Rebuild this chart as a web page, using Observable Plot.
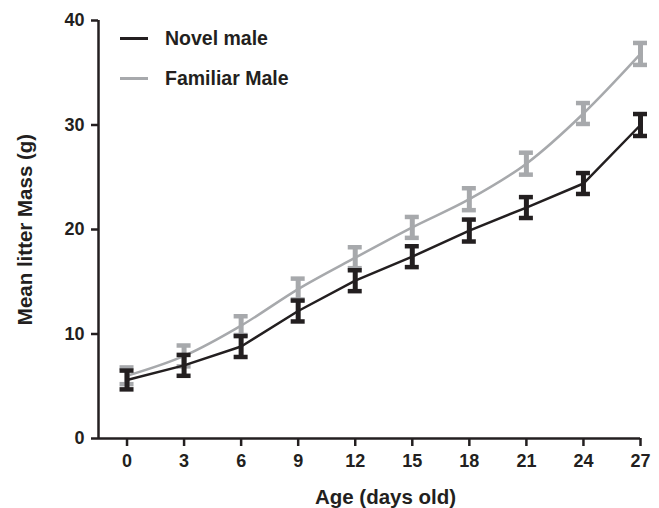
<!DOCTYPE html>
<html>
<head>
<meta charset="utf-8">
<script src="https://cdn.jsdelivr.net/npm/d3@7"></script>
<script src="https://cdn.jsdelivr.net/npm/@observablehq/plot@0.6"></script>
<style>
  html, body { margin: 0; padding: 0; background: #fff; }
  #wrap { position: relative; width: 659px; height: 508px; font-family: "Liberation Sans", Arial, sans-serif; }
  #legend { position: absolute; left: 120px; top: 18px; }
  .item { display: flex; align-items: center; height: 40px; font-weight: bold; font-size: 19.5px; color: #231f20; }
  .swatch { width: 28px; height: 3px; margin-right: 17px; }
</style>
</head>
<body>
<div id="wrap"><div id="legend"></div></div>
<script>
const days = [0, 3, 6, 9, 12, 15, 18, 21, 24, 27];
const novelMean = [5.6, 7.0, 8.8, 12.2, 15.1, 17.4, 19.9, 22.1, 24.4, 30.0];
const novelErr = [0.9, 1.0, 1.0, 1.0, 1.0, 1.0, 1.05, 1.0, 1.0, 1.05];
const familiarMean = [6.0, 7.9, 10.8, 14.3, 17.3, 20.2, 22.9, 26.3, 31.1, 36.8];
const familiarErr = [0.8, 1.0, 0.9, 1.0, 1.0, 1.0, 1.05, 1.05, 1.0, 1.05];
const seriesNames = ["Novel male", "Familiar Male"];
const seriesColors = ["#231f20", "#a7a9ac"];
const yTicks = [0, 10, 20, 30, 40];
const xTitle = "Age (days old)";
const yTitle = "Mean litter Mass (g)";

const novel = days.map((d, i) => ({day: d, mean: novelMean[i], lo: novelMean[i] - novelErr[i], hi: novelMean[i] + novelErr[i]}));
const familiar = days.map((d, i) => ({day: d, mean: familiarMean[i], lo: familiarMean[i] - familiarErr[i], hi: familiarMean[i] + familiarErr[i]}));

function errMarks(data, color) {
  return [
    Plot.ruleX(data, {x: "day", y1: "lo", y2: "hi", stroke: color, strokeWidth: 5}),
    Plot.ruleY(data, {x1: "day", x2: "day", y: "lo", stroke: color, strokeWidth: 4.5, insetLeft: -7, insetRight: -7}),
    Plot.ruleY(data, {x1: "day", x2: "day", y: "hi", stroke: color, strokeWidth: 4.5, insetLeft: -7, insetRight: -7})
  ];
}

const ink = "#231f20";
const chart = Plot.plot({
  width: 659,
  height: 508,
  marginLeft: 98,
  marginRight: 19,
  marginTop: 20,
  marginBottom: 70,
  style: {fontFamily: "'Liberation Sans', Arial, sans-serif", color: ink, background: "#fff"},
  x: {domain: [-1.5, 27]},
  y: {domain: [0, 40]},
  marks: [
    Plot.axisX({ticks: days, tickSize: 8, tickPadding: 8, fontSize: 18, fontWeight: "bold", strokeWidth: 2.5, label: null, tickFormat: d => String(d)}),
    Plot.axisY({ticks: yTicks, tickSize: 7, tickPadding: 7, fontSize: 18, fontWeight: "bold", strokeWidth: 2.5, label: null}),
    Plot.ruleY([0], {stroke: ink, strokeWidth: 2.5}),
    Plot.ruleX([-1.5], {stroke: ink, strokeWidth: 2.5}),
    ...errMarks(familiar, seriesColors[1]),
    Plot.line(familiar, {x: "day", y: "mean", stroke: seriesColors[1], strokeWidth: 2.5, curve: "monotone-x"}),
    ...errMarks(novel, seriesColors[0]),
    Plot.line(novel, {x: "day", y: "mean", stroke: seriesColors[0], strokeWidth: 2.5}),
    Plot.text([yTitle], {frameAnchor: "left", textAnchor: "middle", rotate: -90, dx: -73, fontSize: 20.5, fontWeight: "bold", fill: ink}),
    Plot.text([xTitle], {frameAnchor: "bottom", textAnchor: "middle", dx: 16, dy: 65, lineAnchor: "bottom", fontSize: 20.5, fontWeight: "bold", fill: ink})
  ]
});
const wrap = document.getElementById("wrap");
wrap.insertBefore(chart, wrap.firstChild);

const legend = document.getElementById("legend");
seriesNames.forEach((name, i) => {
  const item = document.createElement("div");
  item.className = "item";
  const sw = document.createElement("div");
  sw.className = "swatch";
  sw.style.background = seriesColors[i];
  const label = document.createElement("span");
  label.textContent = name;
  item.appendChild(sw);
  item.appendChild(label);
  legend.appendChild(item);
});
</script>
</body>
</html>
